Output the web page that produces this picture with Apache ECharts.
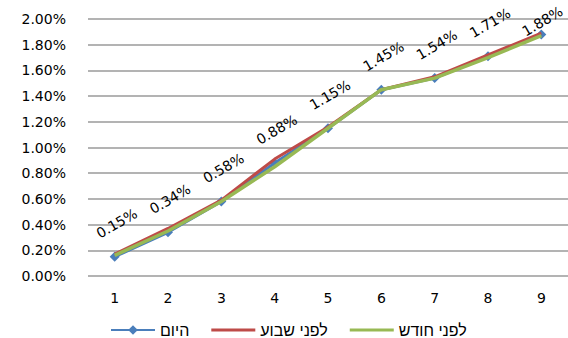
<!DOCTYPE html>
<html>
<head>
<meta charset="utf-8">
<script src="https://cdn.jsdelivr.net/npm/echarts@6/dist/echarts.min.js"></script>
<style>
  html, body { margin: 0; padding: 0; background: #fff; }
  #chart { width: 568px; height: 338px; }
</style>
</head>
<body>
<div id="chart"></div>
<script>
// Categories along the x axis
const categories = ['1', '2', '3', '4', '5', '6', '7', '8', '9'];

// Series values (fractions, shown as percentages)
const today     = [0.0015, 0.0034, 0.0058, 0.0088, 0.0115, 0.0145, 0.0154, 0.0171, 0.0188];
const weekAgo   = [0.0017, 0.0037, 0.0059, 0.0091, 0.0116, 0.0145, 0.0155, 0.0172, 0.0189];
const monthAgo  = [0.0016, 0.0035, 0.0058, 0.0085, 0.0115, 0.0145, 0.0154, 0.0170, 0.0187];

// Series names
const seriesNames = ['היום', 'לפני שבוע', 'לפני חודש'];

// Y axis tick range
const yMin = 0, yMax = 0.02, yStep = 0.002;

const pct = v => (v * 100).toFixed(2) + '%';
const font = 'DejaVu Sans';

// Plain line legend icon: thin bar centred in a 44x12 box (corner specks fix the box)
const barIcon = 'path://M0,0L0.05,0L0.05,0.05Z M0,4.5H44V7.5H0Z M43.95,11.95L44,11.95L44,12Z';

// Last label sits lower, against the top edge
const lastIdx = today.length - 1;
const todayData = today.map((v, i) =>
  i === lastIdx ? { value: v, label: { offset: [-4, 16] } } : v
);

const chart = echarts.init(document.getElementById('chart'), null, { renderer: 'svg' });

chart.setOption({
  animation: false,
  backgroundColor: '#ffffff',
  grid: { left: 88, right: -6, top: 19, bottom: 62, containLabel: false },
  legend: {
    left: 105,
    top: 317,
    itemWidth: 44,
    itemHeight: 12,
    itemGap: 22,
    textStyle: { fontFamily: 'Liberation Sans', fontSize: 16, color: '#000' },
    data: [
      { name: seriesNames[0] },
      { name: seriesNames[1], icon: barIcon, textStyle: { width: 78 } },
      { name: seriesNames[2], icon: barIcon }
    ]
  },
  xAxis: {
    type: 'category',
    data: categories,
    boundaryGap: true,
    axisLine: { show: false },
    axisTick: { show: false },
    axisLabel: { fontFamily: font, fontSize: 14, color: '#000', margin: 15 }
  },
  yAxis: {
    type: 'value',
    min: yMin,
    max: yMax,
    interval: yStep,
    axisLine: { show: false },
    axisTick: { show: false },
    axisLabel: { fontFamily: font, fontSize: 14, color: '#000', margin: 22, formatter: pct },
    splitLine: { lineStyle: { color: '#9a9a9a', width: 1.5 } }
  },
  series: [
    {
      name: seriesNames[0],
      type: 'line',
      data: todayData,
      color: '#4a7ebb',
      lineStyle: { width: 3, color: '#4a7ebb' },
      symbol: 'diamond',
      symbolSize: 10,
      itemStyle: { color: '#4a7ebb' },
      label: {
        show: true,
        position: 'top',
        distance: 18,
        offset: [7, -1],
        rotate: 30,
        fontFamily: font,
        fontSize: 14,
        color: '#000',
        formatter: p => pct(p.value)
      },
      z: 2
    },
    {
      name: seriesNames[1],
      type: 'line',
      data: weekAgo,
      color: '#be4b48',
      lineStyle: { width: 3, color: '#be4b48' },
      symbol: 'none',
      z: 3
    },
    {
      name: seriesNames[2],
      type: 'line',
      data: monthAgo,
      color: '#98b954',
      lineStyle: { width: 3.5, color: '#98b954' },
      symbol: 'none',
      z: 4
    }
  ]
});
</script>
</body>
</html>
